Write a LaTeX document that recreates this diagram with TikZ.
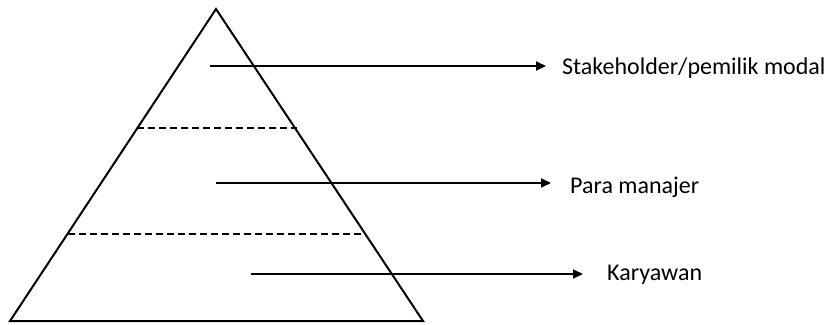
\documentclass[tikz,border=0pt]{standalone}
\usepackage{fontspec}
\setmainfont{Carlito}
\usetikzlibrary{arrows.meta}
\begin{document}
\begin{tikzpicture}[x=1pt,y=-1pt,
  edge/.style={line width=2pt},
  level/.style={line width=1.8pt,dash pattern=on 7pt off 4pt},
  pointer/.style={line width=1.8pt,-{Triangle[length=10pt,width=9pt]}},
  lbl/.style={anchor=west,inner sep=0pt,font=\fontsize{24}{28}\selectfont}]
\useasboundingbox (0,0) rectangle (832,324);
\coordinate (apex) at (216,9);
\coordinate (bl) at (10,321);
\coordinate (br) at (423,321);
\draw[edge,line join=miter] (apex) -- (bl) -- (br) -- cycle;
\coordinate (d1l) at (137,128); \coordinate (d1r) at (297,128);
\coordinate (d2l) at (68,234); \coordinate (d2r) at (364,234);
\draw[level] (d1l) -- (d1r);
\draw[level] (d2l) -- (d2r);
\node[lbl] (l1) at (562,68) {Stakeholder/pemilik modal};
\node[lbl] (l2) at (570,187) {Para manajer};
\node[lbl] (l3) at (607,275) {Karyawan};
\coordinate (s1) at (210,66); \coordinate (t1) at (546,66);
\coordinate (s2) at (216,183); \coordinate (t2) at (551,183);
\coordinate (s3) at (251,274); \coordinate (t3) at (583,274);
\draw[pointer] (s1) -- (t1);
\draw[pointer] (s2) -- (t2);
\draw[pointer] (s3) -- (t3);
\end{tikzpicture}
\end{document}
